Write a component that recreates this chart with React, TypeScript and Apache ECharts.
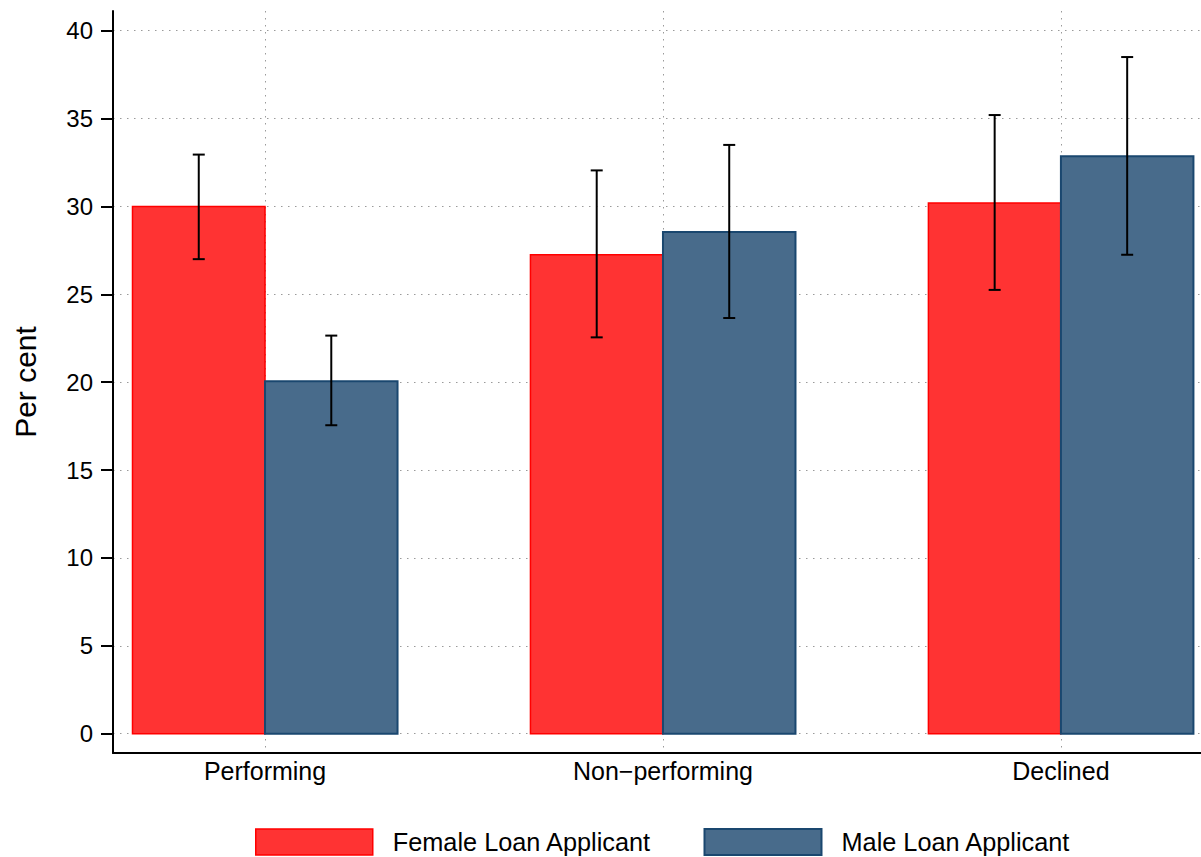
import React, { useEffect, useRef } from "react";
import * as echarts from "echarts";

const categories = ["Performing", "Non\u2212performing", "Declined"];
const seriesNames = ["Female Loan Applicant", "Male Loan Applicant"];
const femaleValues = [30.0, 27.25, 30.2];
const maleValues = [20.05, 28.55, 32.85];
const femaleLow = [27.0, 22.55, 25.25];
const femaleHigh = [32.95, 32.05, 35.2];
const maleLow = [17.55, 23.65, 27.25];
const maleHigh = [22.65, 33.5, 38.5];
const yTicks = [0, 5, 10, 15, 20, 25, 30, 35, 40];
const xTicks = [1, 2, 3];

const FONT = "'Liberation Sans', Arial, Helvetica, sans-serif";
const BAR_W = 0.333;

function barSeries(name: string, values: number[], side: number, fill: string, stroke: string, lw: number) {
  return {
    type: "custom",
    name,
    z: 3,
    itemStyle: { color: fill, borderColor: stroke, borderWidth: lw },
    data: values.map((v, i) => [xTicks[i], v]),
    renderItem: (params: any, api: any) => {
      const c = api.value(0);
      const v = api.value(1);
      const x0 = side < 0 ? c - BAR_W : c;
      const x1 = side < 0 ? c : c + BAR_W;
      const p0 = api.coord([x0, v]);
      const p1 = api.coord([x1, 0]);
      return {
        type: "rect",
        shape: { x: p0[0], y: p0[1], width: p1[0] - p0[0], height: p1[1] - p0[1] },
        style: { fill, stroke, lineWidth: lw },
      };
    },
  };
}

function errSeries(low: number[], high: number[], side: number) {
  return {
    type: "custom",
    name: "err" + side,
    z: 5,
    silent: true,
    data: low.map((lo, i) => [xTicks[i], lo, high[i]]),
    renderItem: (params: any, api: any) => {
      const c = api.value(0) + side * BAR_W / 2;
      const pl = api.coord([c, api.value(1)]);
      const ph = api.coord([c, api.value(2)]);
      const cap = 6;
      const st = { stroke: "#000", lineWidth: 2 };
      return {
        type: "group",
        children: [
          { type: "line", shape: { x1: pl[0], y1: pl[1], x2: ph[0], y2: ph[1] }, style: st },
          { type: "line", shape: { x1: pl[0] - cap, y1: pl[1], x2: pl[0] + cap, y2: pl[1] }, style: st },
          { type: "line", shape: { x1: ph[0] - cap, y1: ph[1], x2: ph[0] + cap, y2: ph[1] }, style: st },
        ],
      };
    },
  };
}

export default function App() {
  const ref = useRef<HTMLDivElement>(null);
  useEffect(() => {
    const chart = echarts.init(ref.current!, null, { renderer: "svg" });
    const gridLine = { show: true, lineStyle: { color: "#9a9a9a", width: 1, type: [1.5, 5.5] } };
    chart.setOption({
      animation: false,
      backgroundColor: "#fff",
      textStyle: { fontFamily: FONT },
      grid: { left: 113, right: 0, top: 11, bottom: 104, containLabel: false },
      xAxis: {
        type: "value",
        min: 0.618,
        max: 3.352,
        axisLine: { show: true, onZero: false, lineStyle: { color: "#000", width: 2 } },
        axisTick: { show: false, customValues: xTicks },
        axisLabel: {
          customValues: xTicks,
          formatter: (v: number) => categories[Math.round(v) - 1] ?? "",
          color: "#000",
          fontSize: 25,
          fontFamily: FONT,
          margin: 5,
        },
        splitLine: gridLine,
      },
      yAxis: {
        type: "value",
        min: -1.1,
        max: 41.12,
        name: "Per cent",
        nameLocation: "middle",
        nameGap: 73,
        nameTextStyle: { color: "#000", fontSize: 30, fontFamily: FONT },
        axisLine: { show: true, onZero: false, lineStyle: { color: "#000", width: 2 } },
        axisTick: { show: true, length: 12, customValues: yTicks, lineStyle: { color: "#000", width: 2 } },
        axisLabel: {
          customValues: yTicks,
          color: "#000",
          fontSize: 24,
          fontFamily: FONT,
          margin: 20,
        },
        splitLine: gridLine,
      },
      legend: {
        left: 255,
        top: 828,
        padding: 0,
        itemWidth: 117,
        itemHeight: 26,
        itemGap: 52,
        textStyle: { color: "#000", fontSize: 25.3, fontFamily: FONT, padding: [0, 0, 0, 15] },
        data: [
          { name: seriesNames[0], icon: "rect", itemStyle: { color: "#ff3333", borderColor: "#ff0000", borderWidth: 1.5 } },
          { name: seriesNames[1], icon: "rect", itemStyle: { color: "#486b8b", borderColor: "#1a476f", borderWidth: 2 } },
        ],
      },
      series: [
        barSeries(seriesNames[0], femaleValues, -1, "#ff3333", "#ff0000", 1.5),
        barSeries(seriesNames[1], maleValues, 1, "#486b8b", "#1a476f", 2),
        errSeries(femaleLow, femaleHigh, -1),
        errSeries(maleLow, maleHigh, 1),
      ],
    });
    return () => chart.dispose();
  }, []);
  return (
    <div
      ref={ref}
      style={{ position: "fixed", left: 0, top: 0, width: 1201, height: 857 }}
    />
  );
}
